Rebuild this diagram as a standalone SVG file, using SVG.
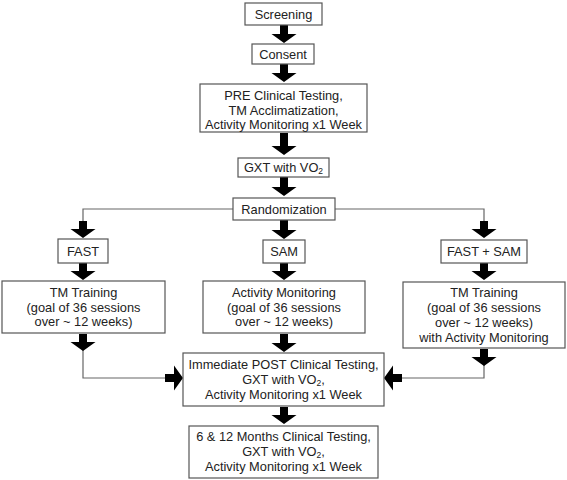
<svg xmlns="http://www.w3.org/2000/svg" width="567" height="480" viewBox="0 0 567 480">
<style>
.box{fill:#fff;stroke:#555;stroke-width:1.2}
text{font-family:"Liberation Sans",Arial,sans-serif;font-size:12.8px;fill:#222;text-anchor:middle}
.sub{font-size:8.5px}
.ln{fill:none;stroke:#666;stroke-width:1.2}
.ar{fill:#000}
</style>
<rect width="567" height="480" fill="#fff"/>
<g id="connectors">
<path class="ln" d="M233,209 H83 V222"/>
<path class="ln" d="M335,209 H484 V222"/>
<path class="ln" d="M83,348 V378 H168"/>
<path class="ln" d="M484,364 V378 H399"/>
<path class="ar" d="M280,25 h8 v9 h8.5 l-12.5,9 l-12.5,-9 h8.5 z"/>
<path class="ar" d="M280,64 h8 v9 h8.5 l-12.5,9 l-12.5,-9 h8.5 z"/>
<path class="ar" d="M280,133 h8 v13 h8.5 l-12.5,9 l-12.5,-9 h8.5 z"/>
<path class="ar" d="M280,177 h8 v10 h8.5 l-12.5,9 l-12.5,-9 h8.5 z"/>
<path class="ar" d="M280,220 h8 v10 h8.5 l-12.5,9 l-12.5,-9 h8.5 z"/>
<path class="ar" d="M79,221 h8 v8 h8.5 l-12.5,9 l-12.5,-9 h8.5 z"/>
<path class="ar" d="M480,221 h8 v8 h8.5 l-12.5,9 l-12.5,-9 h8.5 z"/>
<path class="ar" d="M79,263 h8 v8 h8.5 l-12.5,9 l-12.5,-9 h8.5 z"/>
<path class="ar" d="M280,263 h8 v8 h8.5 l-12.5,9 l-12.5,-9 h8.5 z"/>
<path class="ar" d="M480,263 h8 v8 h8.5 l-12.5,9 l-12.5,-9 h8.5 z"/>
<path class="ar" d="M280,334 h8 v9 h8.5 l-12.5,9 l-12.5,-9 h8.5 z"/>
<path class="ar" d="M79,334 h8 v8 h8.5 l-12.5,9 l-12.5,-9 h8.5 z"/>
<path class="ar" d="M480,349 h8 v8 h8.5 l-12.5,9 l-12.5,-9 h8.5 z"/>
<path class="ar" d="M280,407 h8 v8 h8.5 l-12.5,9 l-12.5,-9 h8.5 z"/>
<path class="ar" d="M165,374 v8 h9 v8.5 l9,-12.5 l-9,-12.5 v8.5 z"/>
<path class="ar" d="M402,374 v8 h-9 v8.5 l-9,-12.5 l9,-12.5 v8.5 z"/>
</g>
<g id="screening"><rect class="box" x="245" y="3" width="77" height="22"/><text x="283.5" y="18.5">Screening</text></g>
<g id="consent"><rect class="box" x="252" y="44" width="62" height="20"/><text x="283" y="58.5">Consent</text></g>
<g id="pre"><rect class="box" x="200" y="84" width="167" height="48"/>
<text x="283.5" y="100">PRE Clinical Testing,</text>
<text x="283.5" y="114.5">TM Acclimatization,</text>
<text x="283.5" y="129">Activity Monitoring x1 Week</text></g>
<g id="gxt"><rect class="box" x="238" y="158" width="91" height="19"/><text x="283.5" y="171.5">GXT with VO<tspan class="sub" dy="2.5">2</tspan></text></g>
<g id="randomization"><rect class="box" x="233" y="198" width="102" height="22"/><text x="284" y="213.5">Randomization</text></g>
<g id="fast"><rect class="box" x="58" y="239" width="50" height="24"/><text x="83" y="256">FAST</text></g>
<g id="sam"><rect class="box" x="263" y="240" width="42" height="23"/><text x="284" y="256">SAM</text></g>
<g id="fastsam"><rect class="box" x="441" y="240" width="86" height="23"/><text x="484" y="256">FAST + SAM</text></g>
<g id="tm-left"><rect class="box" x="2" y="281" width="163" height="52"/>
<text x="83.5" y="297">TM Training</text>
<text x="83.5" y="311.5">(goal of 36 sessions</text>
<text x="83.5" y="326">over ~ 12 weeks)</text></g>
<g id="activity"><rect class="box" x="203" y="281" width="162" height="52"/>
<text x="284" y="297">Activity Monitoring</text>
<text x="284" y="311.5">(goal of 36 sessions</text>
<text x="284" y="326">over ~ 12 weeks)</text></g>
<g id="tm-right"><rect class="box" x="403" y="282" width="162" height="66"/>
<text x="484" y="297">TM Training</text>
<text x="484" y="311.5">(goal of 36 sessions</text>
<text x="484" y="326.5">over ~ 12 weeks)</text>
<text x="484" y="341.5">with Activity Monitoring</text></g>
<g id="post"><rect class="box" x="183" y="353" width="201" height="53"/>
<text x="283.5" y="368.5">Immediate POST Clinical Testing,</text>
<text x="283.5" y="383.5">GXT with VO<tspan class="sub" dy="2.5">2</tspan><tspan dy="-2.5">,</tspan></text>
<text x="283.5" y="399">Activity Monitoring x1 Week</text></g>
<g id="followup"><rect class="box" x="189" y="426" width="189" height="52"/>
<text x="283.5" y="441">6 &amp; 12 Months Clinical Testing,</text>
<text x="283.5" y="455.5">GXT with VO<tspan class="sub" dy="2.5">2</tspan><tspan dy="-2.5">,</tspan></text>
<text x="283.5" y="471">Activity Monitoring x1 Week</text></g>
</svg>
